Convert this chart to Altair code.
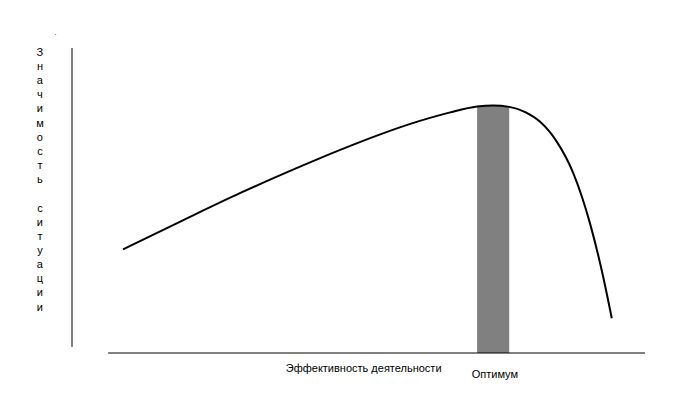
import altair as alt
import pandas as pd

# Curve: efficiency (x) vs significance of situation (y), arbitrary 0-100 units
curve_x = [8.9, 18.9, 29.3, 39.8, 46.8, 53.8, 60.7, 66.0, 70.7, 73.5, 76.3, 79.1, 81.7, 84.6, 87.5, 90.4, 92.7, 94.2]
curve_y = [34.0, 43.1, 52.4, 61.1, 66.6, 71.7, 76.1, 78.9, 80.8, 81.15, 80.7, 79.0, 75.8, 69.3, 58.9, 42.5, 25.0, 11.4]

# Optimum band
optimum_x = [70.7]
optimum_x2 = [76.3]
optimum_top = [81.0]

x_title = "Эффективность деятельности"
y_title_letters = ["З", "н", "а", "ч", "и", "м", "о", "с", "т", "ь", "", "с", "и", "т", "у", "а", "ц", "и", "и"]
optimum_label = "Оптимум"

# vertical title layout (value units): first line centre and line step
title_x = -5.6
title_top = 98.4
title_step = 4.64

xs = alt.Scale(domain=[0, 100], nice=False, zero=False)
ys = alt.Scale(domain=[0, 100], nice=False, zero=False)

curve_df = pd.DataFrame({"x": curve_x, "y": curve_y})
band_df = pd.DataFrame({"x": optimum_x, "x2": optimum_x2, "y": [0] * len(optimum_x), "y2": optimum_top})

band = alt.Chart(band_df).mark_rect(color="#808080").encode(
    x=alt.X("x:Q", scale=xs, axis=None), x2="x2:Q",
    y=alt.Y("y:Q", scale=ys, axis=None), y2="y2:Q",
)

line = alt.Chart(curve_df).mark_line(color="black", strokeWidth=2, interpolate="monotone").encode(
    x=alt.X("x:Q", scale=xs, axis=None),
    y=alt.Y("y:Q", scale=ys, axis=None),
)

xaxis_line = alt.Chart(pd.DataFrame({"x": [6.3], "x2": [100], "y": [0]})).mark_rule(color="black", strokeWidth=1).encode(
    x=alt.X("x:Q", scale=xs, axis=None), x2="x2:Q",
    y=alt.Y("y:Q", scale=ys, axis=None),
)

yaxis_line = alt.Chart(pd.DataFrame({"x": [0], "y": [2.0], "y2": [100]})).mark_rule(color="black", strokeWidth=1).encode(
    x=alt.X("x:Q", scale=xs, axis=None),
    y=alt.Y("y:Q", scale=ys, axis=None), y2="y2:Q",
)

text_df = pd.DataFrame({
    "x": [50.9, 73.8],
    "y": [-5.2, -7.2],
    "t": [x_title, optimum_label],
})
texts = alt.Chart(text_df).mark_text(font="Liberation Sans", fontSize=11, color="black", align="center", baseline="middle").encode(
    x=alt.X("x:Q", scale=xs, axis=None),
    y=alt.Y("y:Q", scale=ys, axis=None),
    text="t:N",
)

letters_df = pd.DataFrame({"t": y_title_letters, "row": range(len(y_title_letters))})
letters_df = letters_df[letters_df["t"] != ""].copy()
letters_df["x"] = title_x
letters_df["y"] = title_top - letters_df["row"] * title_step

ytitle = alt.Chart(letters_df).mark_text(
    font="Liberation Sans", fontSize=11, color="black", align="center", baseline="middle",
).encode(
    x=alt.X("x:Q", scale=xs, axis=None),
    y=alt.Y("y:Q", scale=ys, axis=None),
    text="t:N",
)

dot = alt.Chart(pd.DataFrame({"x": [-2.9], "y": [105.0], "t": ["."]})).mark_text(
    font="Liberation Sans", fontSize=7, color="black"
).encode(
    x=alt.X("x:Q", scale=xs, axis=None),
    y=alt.Y("y:Q", scale=ys, axis=None),
    text="t:N",
)

chart = alt.layer(band, line, xaxis_line, yaxis_line, texts, ytitle, dot).properties(
    width=573, height=305,
    padding={"left": 64, "top": 40, "right": 33, "bottom": 40},
    autosize=alt.AutoSizeParams(type="none"),
    background="white",
).configure_view(stroke=None)

chart.save("out.html", embed_options={"renderer": "svg", "actions": False})
